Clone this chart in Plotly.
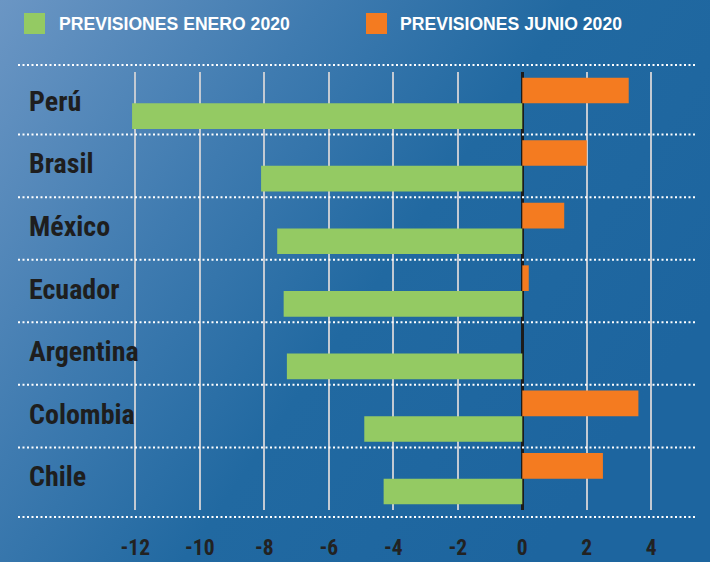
import base64
import plotly.graph_objects as go

# ---- data ----
countries = ["Perú", "Brasil", "México", "Ecuador", "Argentina", "Colombia", "Chile"]
enero_2020 = [-12.1, -8.1, -7.6, -7.4, -7.3, -4.9, -4.3]
junio_2020 = [3.3, 2.0, 1.3, 0.2, None, 3.6, 2.5]
x_ticks = [-12, -10, -8, -6, -4, -2, 0, 2, 4]
x_tick_labels = ["-12", "-10", "-8", "-6", "-4", "-2", "0", "2", "4"]
series_names = ["PREVISIONES ENERO 2020", "PREVISIONES JUNIO 2020"]
series_colors = ["#94ca63", "#f47b20"]

W, H = 710, 562
ML, MR, MT, MB = 18, 13, 72, 52
PW, PH = W - ML - MR, H - MT - MB
PX_PER_UNIT = 32.25
ZERO_PX = 522.3

NARROW = "Roboto Condensed, Roboto, sans-serif"
WIDE = "Liberation Sans, Arial, sans-serif"

svg = (
    f'<svg xmlns="http://www.w3.org/2000/svg" width="{W}" height="{H}" preserveAspectRatio="none">'
    '<defs><linearGradient id="g" x1="0" y1="0" x2="1" y2="0.55">'
    '<stop offset="0" stop-color="#6b96c4"/>'
    '<stop offset="0.35" stop-color="#3f7bb0"/>'
    '<stop offset="0.62" stop-color="#2169a1"/>'
    '<stop offset="1" stop-color="#1d659f"/>'
    '</linearGradient></defs>'
    f'<rect width="{W}" height="{H}" fill="url(#g)"/></svg>'
)
bg_src = "data:image/svg+xml;base64," + base64.b64encode(svg.encode()).decode()


def px_x(p):
    return (p - ML) / PW


def px_y(p):
    return 1 - (p - MT) / PH


fig = go.Figure()
fig.add_trace(go.Bar(
    y=countries, x=junio_2020, orientation="h", name=series_names[1],
    marker=dict(color=series_colors[1], line=dict(width=0)),
))
fig.add_trace(go.Bar(
    y=countries, x=enero_2020, orientation="h", name=series_names[0],
    marker=dict(color=series_colors[0], line=dict(width=0)),
))

shapes = []
dot = "2px,2.5px"
for i in range(len(countries) - 1):
    shapes.append(dict(type="line", xref="paper", yref="y", x0=0, x1=1,
                       y0=i + 0.5, y1=i + 0.5,
                       line=dict(color="white", width=2, dash=dot), layer="above"))
for yp in (px_y(65), px_y(517)):
    shapes.append(dict(type="line", xref="paper", yref="paper", x0=0, x1=1,
                       y0=yp, y1=yp,
                       line=dict(color="white", width=2, dash=dot), layer="above"))

annotations = []
# legend (square swatch + label)
legend_sq_x = [24, 366]
legend_txt_x = [57, 398]
for k in range(2):
    shapes.append(dict(type="rect", xref="paper", yref="paper",
                       x0=px_x(legend_sq_x[k]), x1=px_x(legend_sq_x[k] + 21),
                       y0=px_y(34), y1=px_y(13),
                       fillcolor=series_colors[k], line=dict(width=0), layer="above"))
    annotations.append(dict(xref="paper", yref="paper", x=px_x(legend_txt_x[k]), y=px_y(24),
                            xanchor="left", yanchor="middle", showarrow=False,
                            text=series_names[k],
                            font=dict(family=WIDE, size=17.6, color="white", weight="bold")))
# category labels
for c in countries:
    annotations.append(dict(xref="paper", yref="y", x=px_x(27), y=c,
                            xanchor="left", yanchor="middle", showarrow=False,
                            yshift=2, text=c,
                            font=dict(family=NARROW, size=28, color="#1e1e1e", weight="bold")))

fig.update_layout(
    width=W, height=H,
    margin=dict(l=ML, r=MR, t=MT, b=MB, autoexpand=False),
    paper_bgcolor="#2a6ea5",
    plot_bgcolor="rgba(0,0,0,0)",
    barmode="group", bargap=0.18, bargroupgap=0,
    images=[dict(source=bg_src, xref="paper", yref="paper",
                 x=-ML / PW, y=1 + MT / PH, sizex=W / PW, sizey=H / PH,
                 xanchor="left", yanchor="top", sizing="stretch", layer="below")],
    shapes=shapes,
    annotations=annotations,
    showlegend=False,
    xaxis=dict(range=[(ML - ZERO_PX) / PX_PER_UNIT, (ML + PW - ZERO_PX) / PX_PER_UNIT],
               tickvals=x_ticks, ticktext=x_tick_labels,
               showgrid=True, gridcolor="#c3cad3", gridwidth=1.6,
               zeroline=True, zerolinecolor="#1c1c1c", zerolinewidth=3,
               showline=False, ticks="", ticklabelstandoff=22, automargin=False,
               tickfont=dict(family=NARROW, size=21.5, color="#222222", weight="bold")),
    yaxis=dict(type="category", categoryorder="array", categoryarray=countries,
               range=[len(countries) - 0.5, -0.5], automargin=False,
               showgrid=False, zeroline=False, showline=False, ticks="",
               showticklabels=False),
)

fig.write_html("out.html", config={"displayModeBar": False},
               post_script="document.body.style.margin='0';")
